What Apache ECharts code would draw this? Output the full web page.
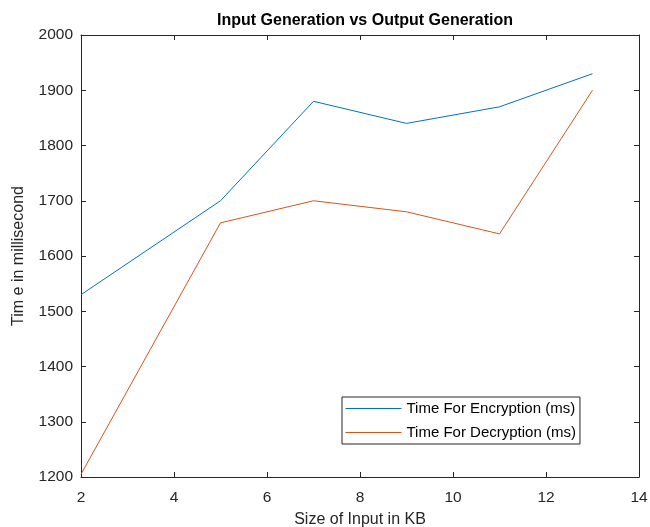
<!DOCTYPE html>
<html>
<head>
<meta charset="utf-8">
<script src="https://cdn.jsdelivr.net/npm/echarts@6/dist/echarts.min.js"></script>
<style>
  html, body { margin: 0; padding: 0; background: #fff; }
  #chart { width: 650px; height: 527px; }
</style>
</head>
<body>
<div id="chart"></div>
<script>
// data
const inputSizes = [2, 5, 7, 9, 11, 13];
const encryptionTimes = [1530, 1700, 1880, 1840, 1870, 1930];
const decryptionTimes = [1205, 1660, 1700, 1680, 1640, 1900];
const seriesNames = ["Time For Encryption (ms)", "Time For Decryption (ms)"];
const seriesColors = ["#0072BD", "#D95319"];

const FONT = "Liberation Sans";
const AXIS = "#262626";

const pairs = (xs, ys) => xs.map((x, i) => [x, ys[i]]);

const chart = echarts.init(document.getElementById("chart"));

const frameAxis = (extra) => Object.assign({
    axisLine: { show: true, onZero: false, lineStyle: { color: AXIS, width: 1 } },
    axisTick: { show: true, inside: true, length: 5, lineStyle: { color: AXIS } },
    splitLine: { show: false },
}, extra);

const option = {
    animation: false,
    color: seriesColors,
    textStyle: { fontFamily: FONT },
    title: {
        text: "Input Generation vs Output Generation",
        left: 360, top: 8, textAlign: "center",
        textStyle: { fontFamily: FONT, fontSize: 16, fontWeight: "bold", color: "#000" },
    },
    grid: { left: 81, right: 11, top: 35, bottom: 50, outerBoundsMode: "none", containLabel: false },
    legend: {
        orient: "vertical",
        left: 342, top: 397,
        data: seriesNames,
        itemWidth: 56, itemHeight: 14,
        itemGap: 9,
        padding: [4, 4, 4, 3],
        borderColor: AXIS, borderWidth: 1,
        backgroundColor: "#fff",
        itemStyle: { opacity: 0 },
        lineStyle: { width: 1 },
        textStyle: { fontFamily: FONT, fontSize: 15, color: "#000" },
    },
    xAxis: [
        frameAxis({
            type: "value", min: 2, max: 14, interval: 2, position: "bottom",
            name: "Size of Input in KB", nameLocation: "middle", nameGap: 35,
            nameTextStyle: { fontFamily: FONT, fontSize: 16, color: AXIS },
            axisLabel: { fontFamily: FONT, fontSize: 15.5, color: AXIS, margin: 13 },
        }),
        frameAxis({
            type: "value", min: 2, max: 14, interval: 2, position: "top",
            axisLabel: { show: false },
        }),
    ],
    yAxis: [
        frameAxis({
            type: "value", min: 1200, max: 2000, interval: 100, position: "left",
            name: "Tim e in millisecond", nameLocation: "middle", nameGap: 54,
            nameTextStyle: { fontFamily: FONT, fontSize: 16, color: AXIS },
            axisLabel: { fontFamily: FONT, fontSize: 15.5, color: AXIS, margin: 8,
                formatter: (v) => String(v) },
        }),
        frameAxis({
            type: "value", min: 1200, max: 2000, interval: 100, position: "right",
            axisLabel: { show: false },
        }),
    ],
    series: [
        {
            name: seriesNames[0], type: "line",
            data: pairs(inputSizes, encryptionTimes),
            symbol: "none",
            lineStyle: { color: seriesColors[0], width: 1 },
        },
        {
            name: seriesNames[1], type: "line",
            data: pairs(inputSizes, decryptionTimes),
            symbol: "none",
            lineStyle: { color: seriesColors[1], width: 1 },
        },
    ],
};

chart.setOption(option);
</script>
</body>
</html>
